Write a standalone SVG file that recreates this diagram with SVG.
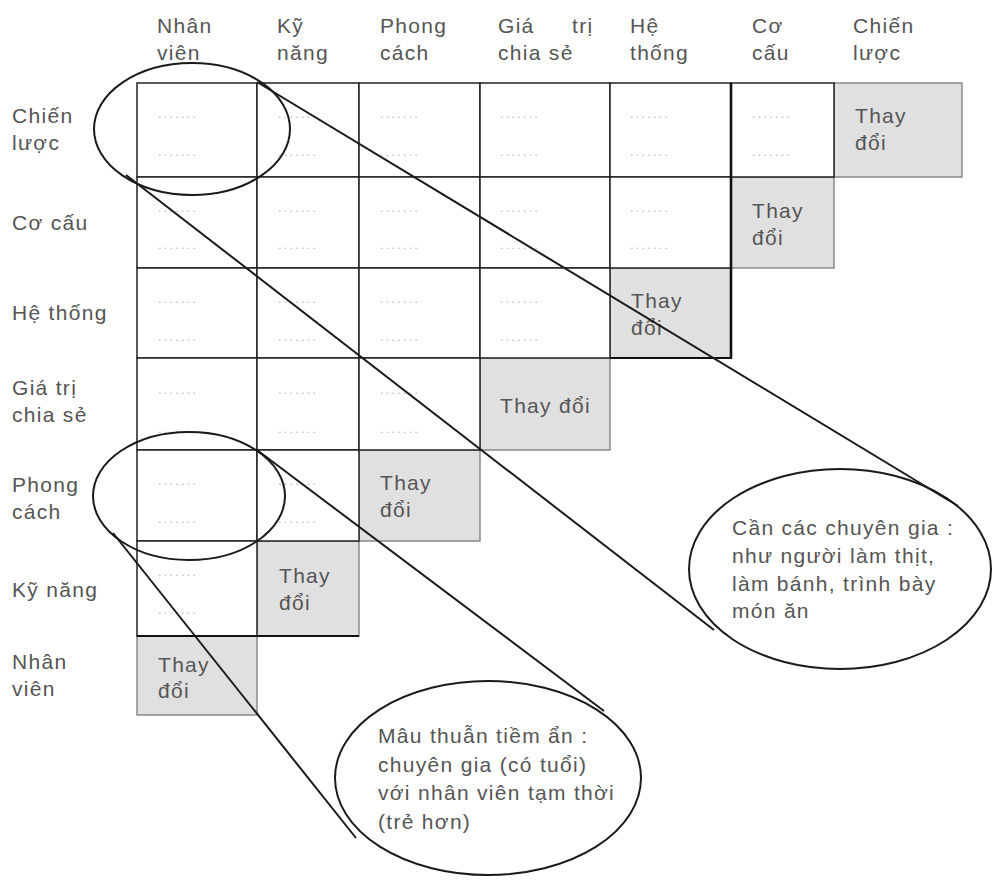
<svg xmlns="http://www.w3.org/2000/svg" width="992" height="880" viewBox="0 0 992 880">
<style>
text{font-family:"Liberation Sans",Arial,sans-serif;font-size:21px;fill:#555;letter-spacing:1.3px}
.w{fill:#fff;stroke:#222;stroke-width:1.5}
.g{fill:#e0e0e0;stroke:#8a8a8a;stroke-width:1.5}
.d{font-size:12px;fill:#b5b5b5;letter-spacing:2.4px}
.e{fill:none;stroke:#1a1a1a;stroke-width:2}
.c{stroke:#1a1a1a;stroke-width:2;fill:none}
.k{stroke:#111;fill:none}
</style>
<rect width="992" height="880" fill="#fff"/>
<g id="col-headers">
<text x="157" y="33">Nhân</text><text x="157" y="60">viên</text>
<text x="277" y="33">Kỹ</text><text x="277" y="60">năng</text>
<text x="380" y="33">Phong</text><text x="380" y="60">cách</text>
<text y="33"><tspan x="498">Giá</tspan><tspan x="572">trị</tspan></text><text x="498" y="60">chia sẻ</text>
<text x="630" y="33">Hệ</text><text x="630" y="60">thống</text>
<text x="752" y="33">Cơ</text><text x="752" y="60">cấu</text>
<text x="853" y="33">Chiến</text><text x="853" y="60">lược</text>
</g>
<g id="row-headers">
<text x="12" y="123">Chiến</text><text x="12" y="150">lược</text>
<text x="12" y="230">Cơ cấu</text>
<text x="12" y="320">Hệ thống</text>
<text x="12" y="395">Giá trị</text><text x="12" y="422">chia sẻ</text>
<text x="12" y="492">Phong</text><text x="12" y="519">cách</text>
<text x="12" y="597">Kỹ năng</text>
<text x="12" y="669">Nhân</text><text x="12" y="696">viên</text>
</g>
<g id="cells-changed">
<g id="c-0-6"><rect class="g" x="834" y="83" width="128" height="94"/><text x="855" y="123">Thay</text><text x="855" y="150">đổi</text></g>
<g id="c-1-5"><rect class="g" x="731" y="177" width="103" height="91"/><text x="752" y="218">Thay</text><text x="752" y="245">đổi</text></g>
<g id="c-2-4"><rect class="g" x="610" y="268" width="121" height="90"/><text x="631" y="308">Thay</text><text x="631" y="335">đổi</text></g>
<g id="c-3-3"><rect class="g" x="480" y="358" width="130" height="92"/><text x="500" y="413">Thay đổi</text></g>
<g id="c-4-2"><rect class="g" x="359" y="450" width="121" height="91"/><text x="380" y="490">Thay</text><text x="380" y="517">đổi</text></g>
<g id="c-5-1"><rect class="g" x="257" y="541" width="102" height="95"/><text x="279" y="583">Thay</text><text x="279" y="610">đổi</text></g>
<g id="c-6-0"><rect class="g" x="137" y="636" width="120" height="79"/><text x="158" y="672">Thay</text><text x="158" y="698">đổi</text></g>
</g>
<g id="cells">
<g id="c-0-0"><rect class="w" x="137" y="83" width="120" height="94"/><text class="d" x="158" y="118">.......</text><text class="d" x="158" y="156">.......</text></g>
<g id="c-0-1"><rect class="w" x="257" y="83" width="102" height="94"/><text class="d" x="278" y="118">.......</text><text class="d" x="278" y="156">.......</text></g>
<g id="c-0-2"><rect class="w" x="359" y="83" width="121" height="94"/><text class="d" x="380" y="118">.......</text><text class="d" x="380" y="156">.......</text></g>
<g id="c-0-3"><rect class="w" x="480" y="83" width="130" height="94"/><text class="d" x="500" y="118">.......</text><text class="d" x="500" y="156">.......</text></g>
<g id="c-0-4"><rect class="w" x="610" y="83" width="121" height="94"/><text class="d" x="630" y="118">.......</text><text class="d" x="630" y="156">.......</text></g>
<g id="c-0-5"><rect class="w" x="731" y="83" width="103" height="94"/><text class="d" x="752" y="118">.......</text><text class="d" x="752" y="156">.......</text></g>
<g id="c-1-0"><rect class="w" x="137" y="177" width="120" height="91"/><text class="d" x="158" y="212">.......</text><text class="d" x="158" y="249">.......</text></g>
<g id="c-1-1"><rect class="w" x="257" y="177" width="102" height="91"/><text class="d" x="278" y="212">.......</text><text class="d" x="278" y="249">.......</text></g>
<g id="c-1-2"><rect class="w" x="359" y="177" width="121" height="91"/><text class="d" x="380" y="212">.......</text><text class="d" x="380" y="249">.......</text></g>
<g id="c-1-3"><rect class="w" x="480" y="177" width="130" height="91"/><text class="d" x="500" y="212">.......</text><text class="d" x="500" y="249">.......</text></g>
<g id="c-1-4"><rect class="w" x="610" y="177" width="121" height="91"/><text class="d" x="630" y="212">.......</text><text class="d" x="630" y="249">.......</text></g>
<g id="c-2-0"><rect class="w" x="137" y="268" width="120" height="90"/><text class="d" x="158" y="303">.......</text><text class="d" x="158" y="341">.......</text></g>
<g id="c-2-1"><rect class="w" x="257" y="268" width="102" height="90"/><text class="d" x="278" y="303">.......</text><text class="d" x="278" y="341">.......</text></g>
<g id="c-2-2"><rect class="w" x="359" y="268" width="121" height="90"/><text class="d" x="380" y="303">.......</text><text class="d" x="380" y="341">.......</text></g>
<g id="c-2-3"><rect class="w" x="480" y="268" width="130" height="90"/><text class="d" x="500" y="303">.......</text><text class="d" x="500" y="341">.......</text></g>
<g id="c-3-0"><rect class="w" x="137" y="358" width="120" height="92"/><text class="d" x="158" y="394">.......</text><text class="d" x="158" y="433">.......</text></g>
<g id="c-3-1"><rect class="w" x="257" y="358" width="102" height="92"/><text class="d" x="278" y="394">.......</text><text class="d" x="278" y="433">.......</text></g>
<g id="c-3-2"><rect class="w" x="359" y="358" width="121" height="92"/><text class="d" x="380" y="394">.......</text><text class="d" x="380" y="433">.......</text></g>
<g id="c-4-0"><rect class="w" x="137" y="450" width="120" height="91"/><text class="d" x="158" y="485">.......</text><text class="d" x="158" y="523">.......</text></g>
<g id="c-4-1"><rect class="w" x="257" y="450" width="102" height="91"/><text class="d" x="278" y="485">.......</text><text class="d" x="278" y="523">.......</text></g>
<g id="c-5-0"><rect class="w" x="137" y="541" width="120" height="95"/><text class="d" x="158" y="576">.......</text><text class="d" x="158" y="614">.......</text></g>
</g>
<g id="grid-emphasis">
<line class="k" x1="731" y1="83" x2="731" y2="358" stroke-width="2.6"/>
<line class="k" x1="610" y1="358" x2="732" y2="358" stroke-width="1.8"/>
<line class="k" x1="137" y1="636" x2="359" y2="636" stroke-width="2.2"/>
</g>
<g id="focus-top"><ellipse class="e" cx="192" cy="129" rx="98" ry="66"/></g>
<g id="focus-mid"><ellipse class="e" cx="189" cy="496" rx="96" ry="64"/></g>
<g id="note-right"><ellipse class="e" cx="840" cy="569" rx="151" ry="100"/>
<text x="732" y="535">Cần các chuyên gia :</text>
<text x="732" y="563">như người làm thịt,</text>
<text x="732" y="591">làm bánh, trình bày</text>
<text x="732" y="618">món ăn</text>
</g>
<g id="note-bottom"><ellipse class="e" cx="488" cy="778" rx="153" ry="97"/>
<text x="378" y="743">Mâu thuẫn tiềm ẩn :</text>
<text x="378" y="772">chuyên gia (có tuổi)</text>
<text x="378" y="800">với nhân viên tạm thời</text>
<text x="378" y="829">(trẻ hơn)</text>
</g>
<g id="connectors">
<line class="c" x1="257" y1="82" x2="958" y2="506"/>
<line class="c" x1="126" y1="175" x2="714" y2="630"/>
<line class="c" x1="257" y1="450" x2="604" y2="711"/>
<line class="c" x1="113" y1="533" x2="356" y2="838"/>
</g>
</svg>
